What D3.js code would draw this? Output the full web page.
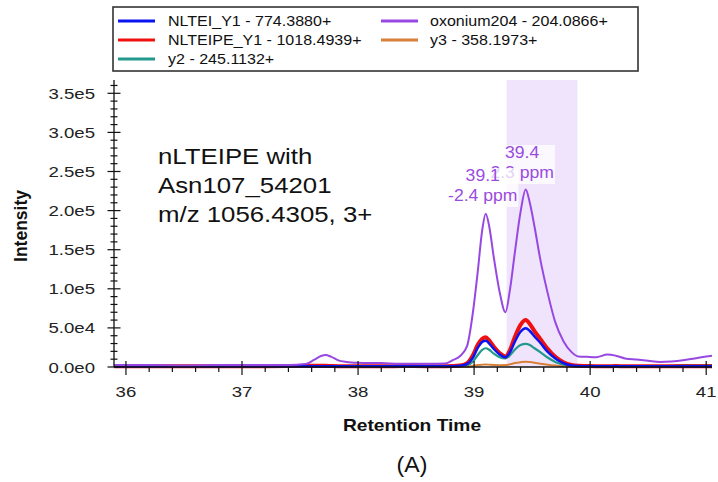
<!DOCTYPE html>
<html><head><meta charset="utf-8">
<script src="https://cdn.jsdelivr.net/npm/d3@7/dist/d3.min.js"></script>
<style>body{margin:0;background:#fff}svg{display:block;font-family:"Liberation Sans",Arial,sans-serif}</style>
</head><body>
<svg id="c" width="718" height="482"></svg>
<script>
const rt = [35.9,36.2,36.5,36.8,37.1,37.4,37.55,37.62,37.68,37.72,37.77,37.83,37.9,38.0,38.2,38.4,38.6,38.75,38.82,38.88,38.94,38.99,39.03,39.07,39.10,39.13,39.17,39.22,39.27,39.31,39.35,39.40,39.445,39.48,39.52,39.57,39.63,39.70,39.77,39.84,39.90,39.97,40.05,40.15,40.22,40.3,40.4,40.5,40.6,40.7,40.8,40.9,41.0,41.05];
const oxonium = [2500,2500,2000,2500,2500,2500,4000,9000,14000,15500,13000,8500,6500,5500,5000,4000,4000,4500,9000,14000,27000,70000,120000,175000,196000,180000,140000,96000,70000,100000,145000,198000,227000,210000,180000,138000,97000,57000,33000,19000,13500,13000,12500,16000,14500,11000,9500,8000,6500,7000,8500,11000,13500,14500];
const nlteipe = [1000,800,1000,900,1000,1200,1500,1500,1500,1500,1200,1000,1000,900,1000,1200,1000,1000,1200,2000,5000,15000,28000,36000,38000,34000,26000,18000,13500,22000,38000,54000,60000,55000,46000,36000,24000,13000,6000,2500,1500,1200,1000,1000,1200,1000,1000,900,900,900,1000,1000,1000,1000];
const nltei = [800,800,800,800,800,800,900,900,900,900,900,800,800,800,800,800,800,800,900,1500,4000,12000,24000,32000,33500,30000,23000,16000,12500,19000,32000,45000,49500,46000,39000,31000,20000,11000,5000,2000,1200,900,800,800,800,800,800,800,800,800,800,800,800,800];
const y2 = [500,500,500,500,500,500,500,500,500,500,500,500,500,500,500,500,500,500,600,900,2000,7000,15000,22000,24000,22000,17000,12500,11000,15000,22000,28000,29500,28000,24000,19000,12500,6500,3000,1500,800,600,600,600,600,600,700,800,1000,1500,2500,2500,2500,2500];
const y3 = [0,0,0,0,0,0,0,0,0,0,0,0,0,0,0,0,0,0,100,200,300,1500,2500,3000,3200,3000,2500,2300,2500,3500,5000,6200,6800,6300,5500,4200,3000,1800,900,400,200,200,200,200,200,200,200,200,200,200,200,200,200,200];
const yTicks = [0,50000,100000,150000,200000,250000,300000,350000];
const yTickLabels = ["0.0e0","5.0e4","1.0e5","1.5e5","2.0e5","2.5e5","3.0e5","3.5e5"];
const xTicks = [36,37,38,39,40,41];
const legendLabels = ["NLTEI_Y1 - 774.3880+","NLTEIPE_Y1 - 1018.4939+","y2 - 245.1132+","oxonium204 - 204.0866+","y3 - 358.1973+"];
const annotationLines = ["nLTEIPE with","Asn107_54201","m/z 1056.4305, 3+"];
const highlight = [39.28, 39.89];
const peakLabels = [{t:39.44, text:["39.4","2.3 ppm"]},{t:39.1, text:["39.1","-2.4 ppm"]}];

const svg = d3.select("#c");
const x = d3.scaleLinear().domain([35.897, 41.05]).range([114, 712]);
const y = d3.scaleLinear().domain([0, 367000]).range([367, 80]);
const SX = 1.2; // horizontal text stretch seen in the reference

function txt(parent, px, py, s, opts) {
  const g = parent.append("g").attr("transform", `translate(${px},${py}) scale(${opts.sx || SX},1)`);
  const t = g.append("text").attr("x",0).attr("y",0)
    .attr("text-anchor", opts.anchor || "start")
    .attr("font-size", opts.size).attr("fill", opts.fill || "#111")
    .attr("font-weight", opts.weight || "normal").text(s);
  if (opts.dy) t.attr("dy", opts.dy);
  return t;
}

const C = {nltei:"#0a14f0", nlteipe:"#f01010", y2:"#23998e", ox:"#9848e2", y3:"#d8803a"};

// highlight band
svg.append("rect").attr("x", x(highlight[0])).attr("y", y(367000))
  .attr("width", x(highlight[1]) - x(highlight[0])).attr("height", y(0) - y(367000))
  .attr("fill", "#efe4fb");

const line = arr => d3.line().x((d,i)=>x(rt[i])).y(d=>y(d)).curve(d3.curveMonotoneX)(arr);
const series = [
  {v:y3, c:C.y3, w:2},
  {v:y2, c:C.y2, w:2.2},
  {v:nlteipe, c:C.nlteipe, w:4},
  {v:nltei, c:C.nltei, w:2.5},
  {v:oxonium, c:C.ox, w:2},
];
series.forEach(s => svg.append("path").attr("d", line(s.v)).attr("fill","none")
  .attr("stroke", s.c).attr("stroke-width", s.w).attr("stroke-linejoin","round"));

// axes
const ax = "#111";
const x0 = x.range()[0];
svg.append("line").attr("x1",x0).attr("x2",x0).attr("y1",y(367000)).attr("y2",y(0)).attr("stroke",ax).attr("stroke-width",1.3);
svg.append("line").attr("x1",x0).attr("x2",x.range()[1]).attr("y1",y(0)).attr("y2",y(0)).attr("stroke",ax).attr("stroke-width",1.5);
d3.range(0, 360001, 10000).forEach(v => {
  const major = v % 50000 === 0;
  svg.append("line").attr("x1", x0 - (major?6.5:3.5)).attr("x2", x0 + (major?6.5:3.5))
    .attr("y1", y(v)).attr("y2", y(v)).attr("stroke", ax).attr("stroke-width", 1.2);
});
yTicks.forEach((v,i) => txt(svg, 95, y(v), yTickLabels[i], {size:15.5, anchor:"end", dy:"0.36em", fill:"#222"}));
d3.range(36, 41.001, 0.2).forEach(t => {
  const major = Math.abs(t - Math.round(t)) < 1e-6;
  svg.append("line").attr("x1", x(t)).attr("x2", x(t))
    .attr("y1", y(0) - (major?6:0)).attr("y2", y(0) + (major?8:5)).attr("stroke", ax).attr("stroke-width", 1.2);
});
xTicks.forEach(t => txt(svg, x(t), 397, String(t), {size:15.5, anchor:"middle", fill:"#222"}));

txt(svg, 412, 431, "Retention Time", {size:16, weight:"bold", anchor:"middle"});
svg.append("text").attr("transform","translate(27,226) rotate(-90)").attr("text-anchor","middle")
  .attr("font-size",17.5).attr("font-weight","bold").attr("fill","#111").text("Intensity");
txt(svg, 412, 472, "(A)", {size:22, anchor:"middle", sx:1.05});

// annotation
annotationLines.forEach((s,i) => txt(svg, 158, 164 + i*29, s, {size:21.5}));

// peak labels
peakLabels.forEach(p => {
  const cx = x(p.t) - 3;
  const top = p.t > 39.3 ? 145 : 168;
  const g = svg.append("g");
  const rect = g.append("rect");
  const t1 = txt(g, cx, top + 13, p.text[0], {size:16, anchor:"middle", fill:"#9a4ce0", sx:1.1});
  const t2 = txt(g, cx, top + 33, p.text[1], {size:16, anchor:"middle", fill:"#9a4ce0", sx:1.1});
  const w = Math.max(t1.node().getComputedTextLength(), t2.node().getComputedTextLength()) * 1.1 + 2;
  rect.attr("x", cx - w/2).attr("y", top).attr("width", w).attr("height", 39)
    .attr("fill","#fff").attr("fill-opacity",0.75);
});

// legend
svg.append("rect").attr("x",113).attr("y",7).attr("width",525).attr("height",64)
  .attr("fill","#fff").attr("stroke","#333").attr("stroke-width",1.6);
const legColors = [C.nltei, C.nlteipe, C.y2, C.ox, C.y3];
legendLabels.forEach((lab,i) => {
  const col = i < 3 ? 0 : 1, row = i < 3 ? i : i - 3;
  const lx = col ? 381 : 118, tx = col ? 430 : 168, ly = 21 + row*19;
  svg.append("line").attr("x1",lx).attr("x2",lx+37).attr("y1",ly).attr("y2",ly).attr("stroke",legColors[i]).attr("stroke-width",3);
  txt(svg, tx, ly, lab, {size:15, dy:"0.36em", sx:1.07});
});
</script>
</body></html>
